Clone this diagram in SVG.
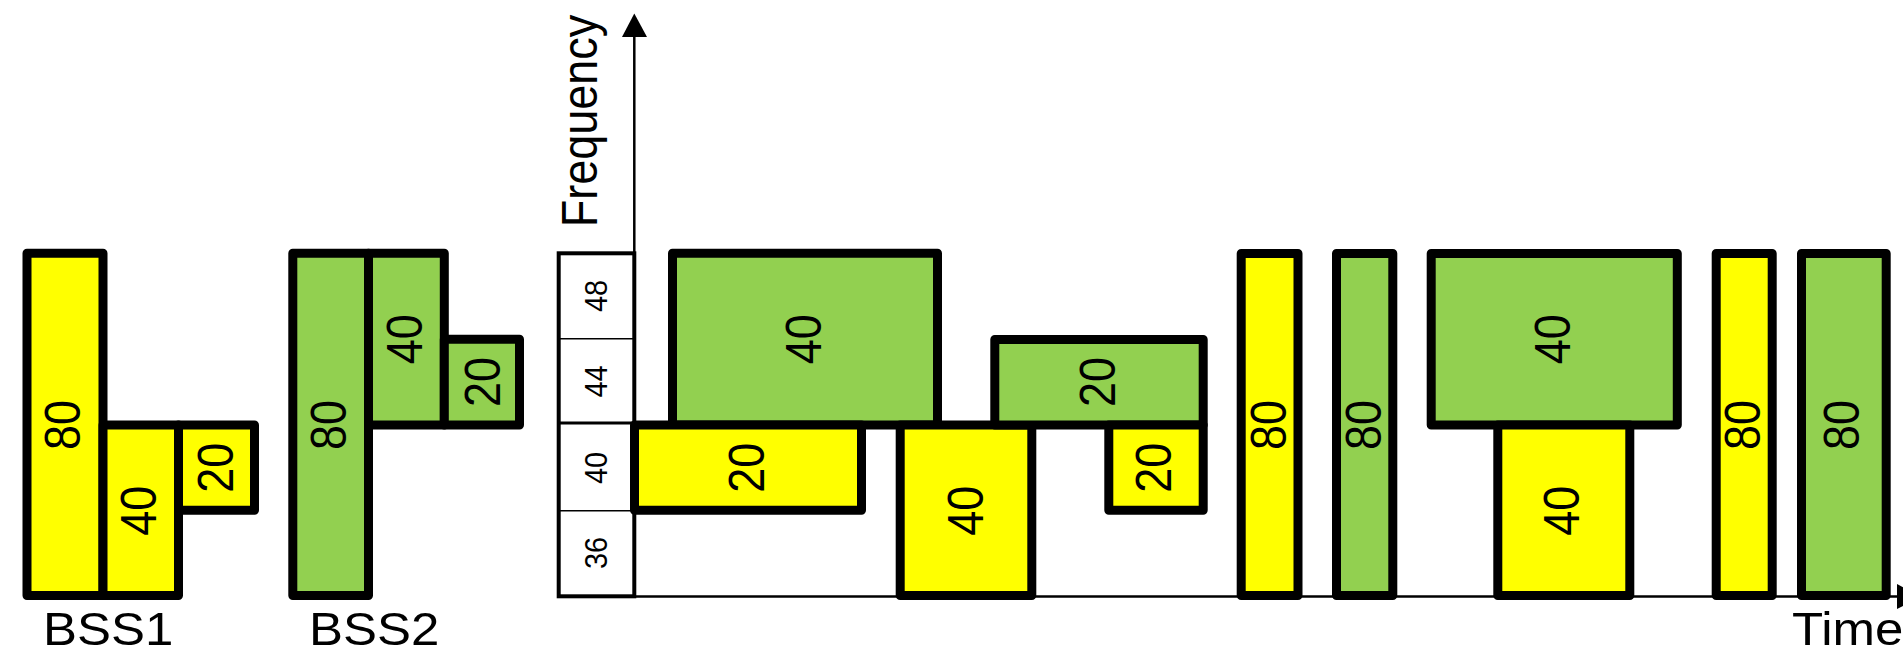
<svg xmlns="http://www.w3.org/2000/svg" width="1903" height="646" viewBox="0 0 1903 646">
<style>
.b{stroke:#000;stroke-width:9;stroke-linejoin:round}
.y{fill:#FFFF00}
.g{fill:#92D050}
.t{font-family:"Liberation Sans",Arial,sans-serif;font-size:50px;fill:#000;text-anchor:middle}
.s{font-family:"Liberation Sans",Arial,sans-serif;font-size:32px;fill:#000;text-anchor:middle}
.h{font-family:"Liberation Sans",Arial,sans-serif;font-size:51px;fill:#000}
.ax{stroke:#000;stroke-width:2.5;fill:none}
</style>
<rect width="1903" height="646" fill="#fff"/>

<g id="freq-scale">
<rect x="558.7" y="253.3" width="75.6" height="343" fill="#fff" stroke="#000" stroke-width="4"/>
<line x1="558.7" y1="338.7" x2="634.3" y2="338.7" stroke="#000" stroke-width="1.5"/>
<line x1="558.7" y1="423" x2="634.3" y2="423" stroke="#000" stroke-width="3"/>
<line x1="558.7" y1="510.7" x2="634.3" y2="510.7" stroke="#000" stroke-width="1.5"/>
<text class="s" transform="translate(606.5,296) rotate(-90) scale(0.9,1)">48</text>
<text class="s" transform="translate(606.5,381.5) rotate(-90) scale(0.9,1)">44</text>
<text class="s" transform="translate(606.5,468) rotate(-90) scale(0.9,1)">40</text>
<text class="s" transform="translate(606.5,553) rotate(-90) scale(0.9,1)">36</text>
</g>

<g id="connectors">
<line class="ax" x1="634.3" y1="596.5" x2="634.3" y2="35"/>
<polygon points="634.3,13.5 622,37 647,37" fill="#000"/>
<line class="ax" x1="558.7" y1="596.5" x2="1899" y2="596.5"/>
<polygon points="1921,596.5 1897,584 1897,609" fill="#000"/>
</g>

<g id="axis-labels">
<text class="h" transform="translate(597,121) rotate(-90) scale(0.9,1)" style="font-size:50px;text-anchor:middle">Frequency</text>
<text class="h" transform="translate(1792,645) scale(1,0.9)">Time</text>
</g>

<g id="bss1">
<g id="bss1-80"><rect class="b y" x="27" y="253.3" width="76" height="342.2"/><text class="t" transform="translate(79.5,425) rotate(-90) scale(0.9,1)">80</text></g>
<g id="bss1-40"><rect class="b y" x="103" y="425" width="75.5" height="170.5"/><text class="t" transform="translate(156.2,510.7) rotate(-90) scale(0.9,1)">40</text></g>
<g id="bss1-20"><rect class="b y" x="178.5" y="425" width="76" height="85.2"/><text class="t" transform="translate(232.8,467.7) rotate(-90) scale(0.9,1)">20</text></g>
<text class="h" transform="translate(43,645) scale(1,0.9)">BSS1</text>
</g>

<g id="bss2">
<g id="bss2-80"><rect class="b g" x="292.8" y="253.3" width="75.7" height="342.2"/><text class="t" transform="translate(346.2,425) rotate(-90) scale(0.9,1)">80</text></g>
<g id="bss2-40"><rect class="b g" x="368.5" y="253.3" width="75.8" height="171.7"/><text class="t" transform="translate(422.2,339.2) rotate(-90) scale(0.9,1)">40</text></g>
<g id="bss2-20"><rect class="b g" x="444.3" y="339.3" width="75.2" height="85.7"/><text class="t" transform="translate(499.5,382) rotate(-90) scale(0.9,1)">20</text></g>
<text class="h" transform="translate(309,645) scale(1,0.9)">BSS2</text>
</g>

<g id="g40a"><rect class="b g" x="672.5" y="253.3" width="265" height="171.7"/><text class="t" transform="translate(820.5,339.2) rotate(-90) scale(0.9,1)">40</text></g>
<g id="y20a"><rect class="b y" x="634.5" y="425" width="227" height="85.2"/><text class="t" transform="translate(763.5,467.7) rotate(-90) scale(0.9,1)">20</text></g>
<g id="y40a"><rect class="b y" x="900.2" y="425" width="131.6" height="170.5"/><text class="t" transform="translate(982.8,510.7) rotate(-90) scale(0.9,1)">40</text></g>
<g id="g20"><rect class="b g" x="994.8" y="339.5" width="208.4" height="85.5"/><text class="t" transform="translate(1114.5,382) rotate(-90) scale(0.9,1)">20</text></g>
<g id="y20b"><rect class="b y" x="1108.8" y="425" width="94.4" height="85.2"/><text class="t" transform="translate(1171.2,467.7) rotate(-90) scale(0.9,1)">20</text></g>
<g id="y80a"><rect class="b y" x="1241.2" y="253.5" width="56.8" height="342"/><text class="t" transform="translate(1286.2,425) rotate(-90) scale(0.9,1)">80</text></g>
<g id="g80a"><rect class="b g" x="1336.5" y="253.5" width="56.3" height="342"/><text class="t" transform="translate(1381.2,425) rotate(-90) scale(0.9,1)">80</text></g>
<g id="g40b"><rect class="b g" x="1431.2" y="253.5" width="246.1" height="171.5"/><text class="t" transform="translate(1569.5,339.2) rotate(-90) scale(0.9,1)">40</text></g>
<g id="y40b"><rect class="b y" x="1497.8" y="425" width="132" height="170.5"/><text class="t" transform="translate(1579.2,510.7) rotate(-90) scale(0.9,1)">40</text></g>
<g id="y80b"><rect class="b y" x="1716.2" y="253.5" width="56" height="342"/><text class="t" transform="translate(1760.2,425) rotate(-90) scale(0.9,1)">80</text></g>
<g id="g80b"><rect class="b g" x="1801.5" y="253.5" width="84.7" height="342"/><text class="t" transform="translate(1859.2,425) rotate(-90) scale(0.9,1)">80</text></g>
</svg>
